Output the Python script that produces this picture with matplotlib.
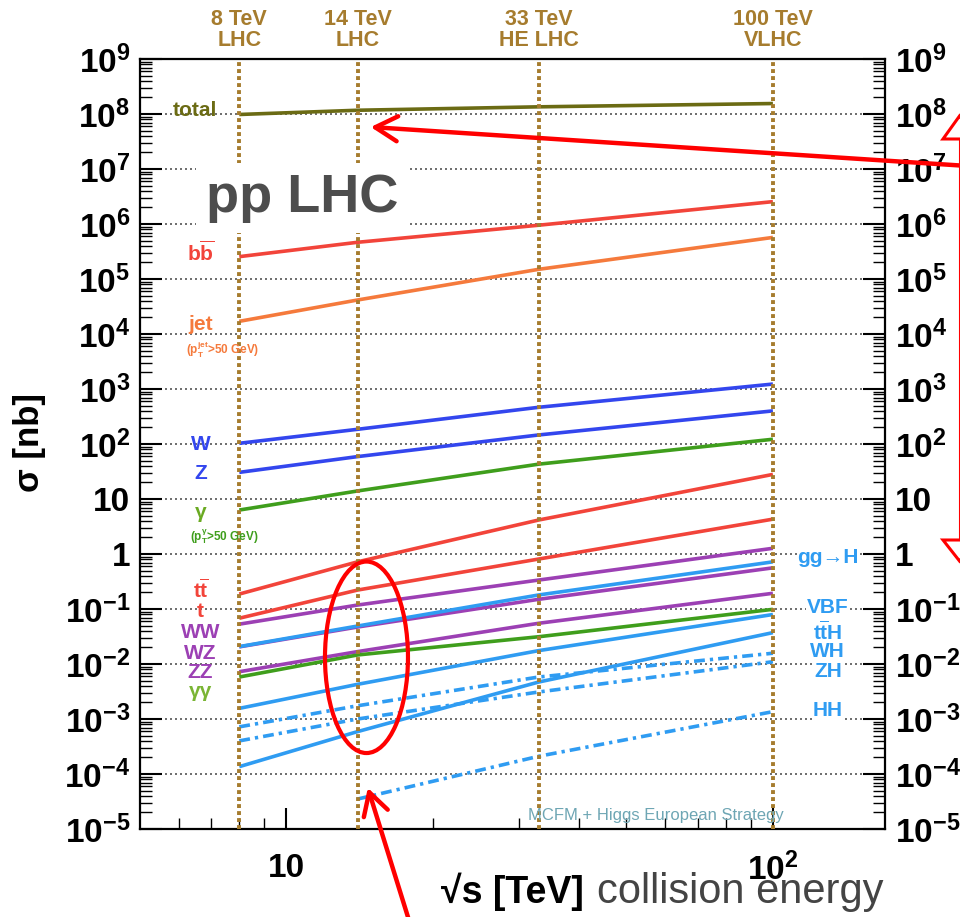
import numpy as np
import matplotlib
matplotlib.use('Agg')
import matplotlib.pyplot as plt
from matplotlib.patches import Ellipse, Polygon
from matplotlib.lines import Line2D
from matplotlib.ticker import FixedLocator, FuncFormatter, NullFormatter
from matplotlib.transforms import blended_transform_factory

plt.rcParams.update({
    'font.family': ['Liberation Sans', 'DejaVu Sans'],
    'font.weight': 'bold',
    'mathtext.fontset': 'custom',
    'mathtext.rm': 'Liberation Sans:bold',
    'mathtext.bf': 'Liberation Sans:bold',
    'mathtext.it': 'Liberation Sans:bold:italic',
    'mathtext.sf': 'Liberation Sans:bold',
    'mathtext.default': 'rm',
})

# collider energies (TeV) where each cross section was read
energies = [8, 14, 33, 100]
energies_hh = [14, 33, 100]

# cross sections in nb
xs_total = [9.8e7, 1.17e8, 1.35e8, 1.55e8]
xs_bb = [2.55e5, 4.65e5, 9.5e5, 2.55e6]
xs_jet = [1.7e4, 4.15e4, 1.5e5, 5.7e5]
xs_w = [103, 185, 465, 1230]
xs_z = [30.5, 59, 146, 400]
xs_gamma = [6.3, 14, 43, 122]
xs_tt = [0.187, 0.72, 4.15, 28]
xs_t = [0.068, 0.221, 0.81, 4.3]
xs_ww = [0.053, 0.118, 0.336, 1.27]
xs_wz = [0.0205, 0.047, 0.15, 0.56]
xs_zz = [0.00724, 0.0168, 0.055, 0.193]
xs_gg = [0.0058, 0.0146, 0.0313, 0.0986]
xs_ggh = [0.0207, 0.049, 0.18, 0.72]
xs_vbf = [0.00156, 0.00427, 0.0175, 0.0794]
xs_tth = [1.36e-4, 5.9e-4, 4.7e-3, 0.0372]
xs_wh = [7.2e-4, 1.74e-3, 5.8e-3, 0.0157]
xs_zh = [4.0e-4, 1.0e-3, 3.1e-3, 0.011]
xs_hh = [3.5e-5, 2.1e-4, 1.36e-3]

# collider benchmarks
collider_energies = [8, 14, 33, 100]
collider_labels = ['8 TeV\nLHC', '14 TeV\nLHC', '33 TeV\nHE LHC', '100 TeV\nVLHC']

OLIVE = '#6b6b14'
RED = '#f2443a'
ORANGE = '#f57a3c'
BLUE = '#3346ee'
GREEN = '#3f9e1c'
PURPLE = '#9c40b4'
HIGGS = '#2f9cf2'
GOLD = '#a67c2e'

series = [
    (xs_total, OLIVE, '-'),
    (xs_bb, RED, '-'),
    (xs_jet, ORANGE, '-'),
    (xs_w, BLUE, '-'),
    (xs_z, BLUE, '-'),
    (xs_gamma, GREEN, '-'),
    (xs_tt, RED, '-'),
    (xs_t, RED, '-'),
    (xs_ww, PURPLE, '-'),
    (xs_wz, PURPLE, '-'),
    (xs_zz, PURPLE, '-'),
    (xs_gg, GREEN, '-'),
    (xs_ggh, HIGGS, '-'),
    (xs_vbf, HIGGS, '-'),
    (xs_tth, HIGGS, '-'),
    (xs_wh, HIGGS, 'dashdot'),
    (xs_zh, HIGGS, 'dashdot'),
]

# process labels: text, x, y, colour, size
left_labels = [
    ('total', 6.5, 1.17e8, OLIVE, 15),
    (r'$\mathbf{b\overline{b}}$', 6.66, 3.0e5, RED, 15),
    ('jet', 6.66, 1.5e4, ORANGE, 15),
    (r'(p$_T^{jet}$>50 GeV)', 7.4, 5.1e3, ORANGE, 8.5),
    ('W', 6.66, 1.0e2, BLUE, 15),
    ('Z', 6.66, 28.5, BLUE, 15),
    ('γ', 6.66, 5.6, '#6aaa22', 15),
    (r'(p$_T^{\gamma}$>50 GeV)', 7.45, 2.05, GREEN, 8.5),
    (r'$\mathbf{t\overline{t}}$', 6.66, 0.22, RED, 15),
    ('t', 6.66, 0.089, RED, 15),
    ('WW', 6.66, 0.038, PURPLE, 15),
    ('WZ', 6.66, 0.0158, PURPLE, 15),
    ('ZZ', 6.66, 0.0069, PURPLE, 15),
    ('γγ', 6.66, 0.0032, '#7ab534', 15),
]
right_labels = [
    ('gg→H', 0.88),
    ('VBF', 0.105),
    (r'$\mathbf{t\overline{t}H}$', 0.038),
    ('WH', 0.0166),
    ('ZH', 0.0072),
    ('HH', 0.0014),
]


def decade_label(v, pos):
    k = int(round(np.log10(v)))
    if k == 0:
        return '1'
    if k == 1:
        return '10'
    return r'$\mathbf{10^{%d}}$' % k


fig = plt.figure(figsize=(9.6, 9.17), dpi=100)
ax = fig.add_axes([140 / 960, 88 / 917, 745 / 960, 770 / 917])
ax.set_xscale('log')
ax.set_yscale('log')
ax.set_xlim(5, 170)
ax.set_ylim(1e-5, 1e9)

# ticks
ax.yaxis.set_major_locator(FixedLocator([10.0 ** k for k in range(-5, 10)]))
ax.yaxis.set_minor_locator(FixedLocator([m * 10.0 ** k for k in range(-5, 9) for m in range(2, 10)]))
ax.yaxis.set_major_formatter(FuncFormatter(decade_label))
ax.yaxis.set_minor_formatter(NullFormatter())
ax.xaxis.set_major_locator(FixedLocator([10, 100]))
ax.xaxis.set_minor_locator(FixedLocator([6, 7, 8, 9, 20, 30, 40, 50, 60, 70, 80, 90]))
ax.xaxis.set_major_formatter(FuncFormatter(decade_label))
ax.xaxis.set_minor_formatter(NullFormatter())

ax.tick_params(axis='y', which='major', direction='in', length=16, width=1.5,
               left=True, right=True, labelleft=True, labelright=True,
               labelsize=24, pad=7)
ax.tick_params(axis='y', which='minor', direction='in', length=8.5, width=1,
               left=True, right=True)
ax.tick_params(axis='x', which='major', direction='in', length=15, width=1.5,
               top=False, labelsize=24, pad=17)
ax.tick_params(axis='x', which='minor', direction='in', length=8, width=1, top=False)
for sp in ax.spines.values():
    sp.set_linewidth(1.6)

ax.set_axisbelow('line')
ax.grid(which='major', axis='y', color='#555555', linestyle=(0, (1.2, 1.8)), linewidth=1.2)

# cross section curves
for values, color, style in series:
    line, = ax.plot(energies, values, color=color, lw=2.6, zorder=3, solid_capstyle='butt')
    if style == 'dashdot':
        line.set_dashes((3, 1.4, 0.9, 1.4))
ax.plot(energies_hh, xs_hh, color=HIGGS, lw=2.6, zorder=3, dashes=(3, 1.4, 0.9, 1.4))

# collider energy markers
top = blended_transform_factory(ax.transData, ax.transAxes)
for e, lab in zip(collider_energies, collider_labels):
    ax.axvline(e, color=GOLD, lw=2.8, linestyle=(0, (1, 0.8)), zorder=4)
    ax.text(e, 1.01, lab, transform=top, ha='center', va='bottom', color=GOLD,
            fontsize=15.5, linespacing=1.0)

for text, x, y, color, size in left_labels:
    ax.text(x, y, text, ha='center', va='center', color=color, fontsize=size, zorder=5)
for text, y in right_labels:
    ax.text(129.7, y, text, ha='center', va='center', color=HIGGS, fontsize=15, zorder=5,
            bbox=dict(facecolor='white', edgecolor='none', pad=0.5))

ax.text(6.82, 10 ** 6.22, 'pp LHC', fontsize=39, color='#4d4d4d', ha='left', va='baseline',
        zorder=6, bbox=dict(facecolor='white', edgecolor='none', pad=7))
ax.text(31.4, 10 ** -4.84, 'MCFM + Higgs European Strategy', fontsize=12, weight='normal',
        color='#6ea6b4', ha='left', va='baseline', zorder=5)

# axis titles
fig.text(30 / 960, 1 - 443 / 917, 'σ [nb]', rotation=90, ha='center', va='center', fontsize=25)
fig.text(584 / 960, 14 / 917, '√s [TeV]', ha='right', va='baseline', fontsize=27)
fig.text(597 / 960, 14 / 917, 'collision energy', ha='left', va='baseline', fontsize=30,
         weight='normal', color='#444444')


# red slide annotations
def px(x, y):
    return (x / 960, 1 - y / 917)


arrow = dict(arrowstyle='->,head_length=0.8,head_width=0.45', color='red', lw=3.2,
             mutation_scale=20, shrinkA=0, shrinkB=0)
ax.annotate('', xy=(14.9, 5.8e7), xycoords='data', xytext=px(968, 166),
            textcoords='figure fraction', arrowprops=arrow, annotation_clip=False, zorder=10)
ax.annotate('', xy=(14.7, 5.6e-5), xycoords='data', xytext=px(412, 930),
            textcoords='figure fraction', arrowprops=arrow, annotation_clip=False, zorder=10)
ax.add_patch(Ellipse((0.304, 0.223), 0.1114, 0.2487, transform=ax.transAxes, fill=False,
                     edgecolor='red', lw=3, zorder=10))

fig.add_artist(Line2D(*zip(px(959.5, 139), px(959.5, 540)), color='red', lw=1.5, zorder=10))
fig.add_artist(Polygon([px(943, 139), px(976, 139), px(959.5, 116)], closed=True,
                       facecolor='white', edgecolor='red', lw=2.2, zorder=10))
fig.add_artist(Polygon([px(943, 540), px(976, 540), px(959.5, 561)], closed=True,
                       facecolor='white', edgecolor='red', lw=2.2, zorder=10))

fig.savefig('out.png', dpi=100)
